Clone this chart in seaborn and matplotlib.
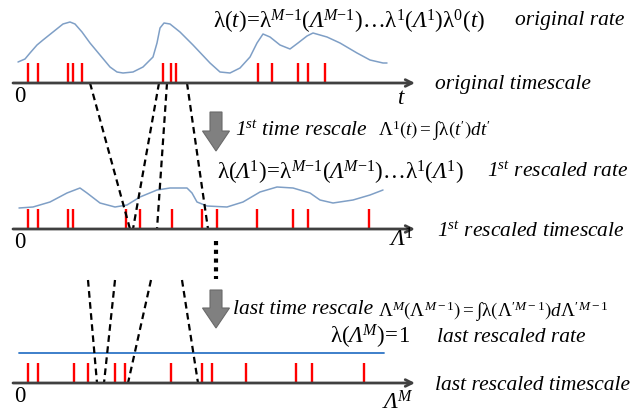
import matplotlib
matplotlib.use("Agg")
import matplotlib.pyplot as plt
import seaborn as sns
import pandas as pd

# ---------------- data (pixel-space diagram coordinates) ----------------
axis_y = [83, 229, 383]            # baselines of the three timescales
axis_x0, axis_x1 = 13, 415
spike_h = 20

spikes_orig = [28, 38, 68, 73, 82, 163, 171, 176, 258, 272, 298, 308, 325]
spikes_first = [28, 38, 68, 73, 126, 140, 172, 202, 217, 257, 293, 308, 369]
spikes_last = [28, 38, 74, 88, 115, 125, 171, 202, 212, 246, 296, 312, 364]

rate_orig_x = [18, 25, 30, 37, 43, 53, 63, 70, 75, 82, 90, 100, 110, 117, 123, 133, 143,
               153, 157, 160, 164, 170, 180, 193, 210, 220, 230, 240, 250, 257, 263, 270,
               280, 290, 298, 307, 313, 327, 340, 357, 370, 383, 387]
rate_orig_y = [62, 59, 53, 45, 40, 32, 24, 22, 24, 32, 43, 55, 67, 72, 73, 72, 67,
               57, 43, 28, 23, 24, 32, 45, 63, 72, 73, 68, 57, 43, 34, 37,
               45, 49, 43, 36, 33, 37, 43, 53, 60, 63, 63]

rate_first_x = [19, 33, 50, 67, 80, 87, 100, 115, 127, 140, 157, 170, 187, 192, 197, 207,
                227, 243, 260, 277, 293, 310, 320, 333, 353, 370, 383]
rate_first_y = [208, 207, 202, 193, 188, 193, 203, 207, 205, 197, 190, 188, 188, 193, 202, 206,
                207, 202, 192, 187, 188, 193, 200, 203, 200, 195, 190]

rate_last_x = [19, 384]
rate_last_y = [353, 353]

# dashed mapping lines: (x at upper end, x at lower end)
map1_top = [90, 159, 167, 187]
map1_bot = [130, 133, 157, 208]
map2_top = [88, 115, 151, 182]
map2_bot = [97, 104, 128, 198]
map2_ytop = 280

# ---------------- figure ----------------
sns.set_theme(style="white")
plt.rcParams["mathtext.fontset"] = "custom"
plt.rcParams["mathtext.rm"] = "Liberation Serif"
plt.rcParams["mathtext.it"] = "Liberation Serif:italic"
plt.rcParams["mathtext.cal"] = "Liberation Serif:italic"
plt.rcParams["mathtext.bf"] = "Liberation Serif:bold"
plt.rcParams["mathtext.fallback"] = "stix"
plt.rcParams["font.family"] = ["Liberation Serif", "DejaVu Serif"]
plt.rcParams["text.color"] = "black"

W, H = 641, 416
fig = plt.figure(figsize=(W / 100, H / 100), dpi=100)
ax = fig.add_axes([0, 0, 1, 1])

axis_col = "#404040"
for y in axis_y:
    ax.annotate("", xy=(axis_x1, y), xytext=(axis_x0, y),
                arrowprops=dict(arrowstyle="->", lw=2, color=axis_col,
                                mutation_scale=12, shrinkA=0, shrinkB=0))

for y, sp in zip(axis_y, [spikes_orig, spikes_first, spikes_last]):
    ax.vlines(sp, y - spike_h, y - 0.5, colors="#ff0000", lw=1.7)

curve_col = "#7f9fc6"
df1 = pd.DataFrame({"x": rate_orig_x, "y": rate_orig_y})
df2 = pd.DataFrame({"x": rate_first_x, "y": rate_first_y})
df3 = pd.DataFrame({"x": rate_last_x, "y": rate_last_y})
sns.lineplot(data=df1, x="x", y="y", ax=ax, color=curve_col, lw=1.1, sort=False)
sns.lineplot(data=df2, x="x", y="y", ax=ax, color=curve_col, lw=1.1, sort=False)
sns.lineplot(data=df3, x="x", y="y", ax=ax, color="#2e75c6", lw=1.3, sort=False)
ax.set_xlim(0, W)
ax.set_ylim(H, 0)
ax.axis("off")

for xt, xb in zip(map1_top, map1_bot):
    ax.plot([xt, xb], [axis_y[0], axis_y[1]], color="black", lw=1.6, ls=(0, (3, 2)))
for xt, xb in zip(map2_top, map2_bot):
    ax.plot([xt, xb], [map2_ytop, axis_y[2]], color="black", lw=1.6, ls=(0, (3, 2)))

# dotted vertical "..." between stages
ax.plot([216, 216], [241, 279], color="black", lw=3, ls=(0, (1, 1.1)), solid_capstyle="butt")

# big grey arrows
for ytop, ytip in [(112, 151), (290, 328)]:
    ax.arrow(216, ytop, 0, ytip - ytop, width=12, head_width=27, head_length=20,
             length_includes_head=True, fc="#808080", ec="#6a6a6a", lw=0.8)

# ---------------- text ----------------
fs_big = 16.5
fs_lab = 15.5
fs_small = 13.8
serif = "Liberation Serif"
lab = dict(fontsize=fs_lab, style="italic", va="center", family=serif)

L = r"\mathcal{Λ}"
lam = r"\mathrm{λ}"

ax.text(213, 22, rf"${lam}(t)\!=\!{lam}^{{M\mathrm{{-}}1}}({L}^{{M\mathit{{-1}}}})\ldots{lam}^{{1}}({L}^{{1}}){lam}^{{0}}(t)$",
        fontsize=fs_big, va="center", ha="left")
ax.text(515, 20, "original rate", **lab)
ax.text(435, 84, "original timescale", **lab)
ax.text(20, 97, "0", fontsize=fs_big, va="center", ha="center", family=serif)
ax.text(401, 99, r"$t$", fontsize=fs_big, va="center", ha="center")

ax.text(235, 131, r"1$^{st}$ time rescale", **lab)
ax.text(378, 131, rf"$\mathrm{{Λ}}^{{1}}\left(t\right)=\int{lam}\left(t'\right)dt'$",
        fontsize=fs_small, va="center")

ax.text(217, 173, rf"${lam}({L}^{{1}})\!=\!{lam}^{{M\mathrm{{-}}1}}({L}^{{M\mathit{{-1}}}})\ldots{lam}^{{1}}({L}^{{1}})$",
        fontsize=fs_big, va="center")
ax.text(487, 172, r"1$^{st}$ rescaled rate", **lab)
ax.text(437, 232, r"1$^{st}$ rescaled timescale", **lab)
ax.text(20, 243, "0", fontsize=fs_big, va="center", ha="center", family=serif)
ax.text(401, 240, rf"${L}^{{1}}$", fontsize=fs_big, va="center", ha="center")

ax.text(233, 310, "last time rescale", **lab)
ax.text(378, 312, rf"$\mathrm{{Λ}}^{{M}}\left(\mathrm{{Λ}}^{{M-1}}\right)=\int{lam}\left(\mathrm{{Λ}}'^{{M-1}}\right)d\mathrm{{Λ}}'^{{M-1}}$",
        fontsize=fs_small, va="center")
ax.text(330, 337, rf"${lam}({L}^{{M}})\!=\!1$", fontsize=fs_big, va="center")
ax.text(437, 337, "last rescaled rate", **lab)
ax.text(435, 385, "last rescaled timescale", **lab)
ax.text(20, 397, "0", fontsize=fs_big, va="center", ha="center", family=serif)
ax.text(398, 403, rf"${L}^{{M}}$", fontsize=fs_big, va="center", ha="center")

fig.savefig("out.png", dpi=100, facecolor="white")
